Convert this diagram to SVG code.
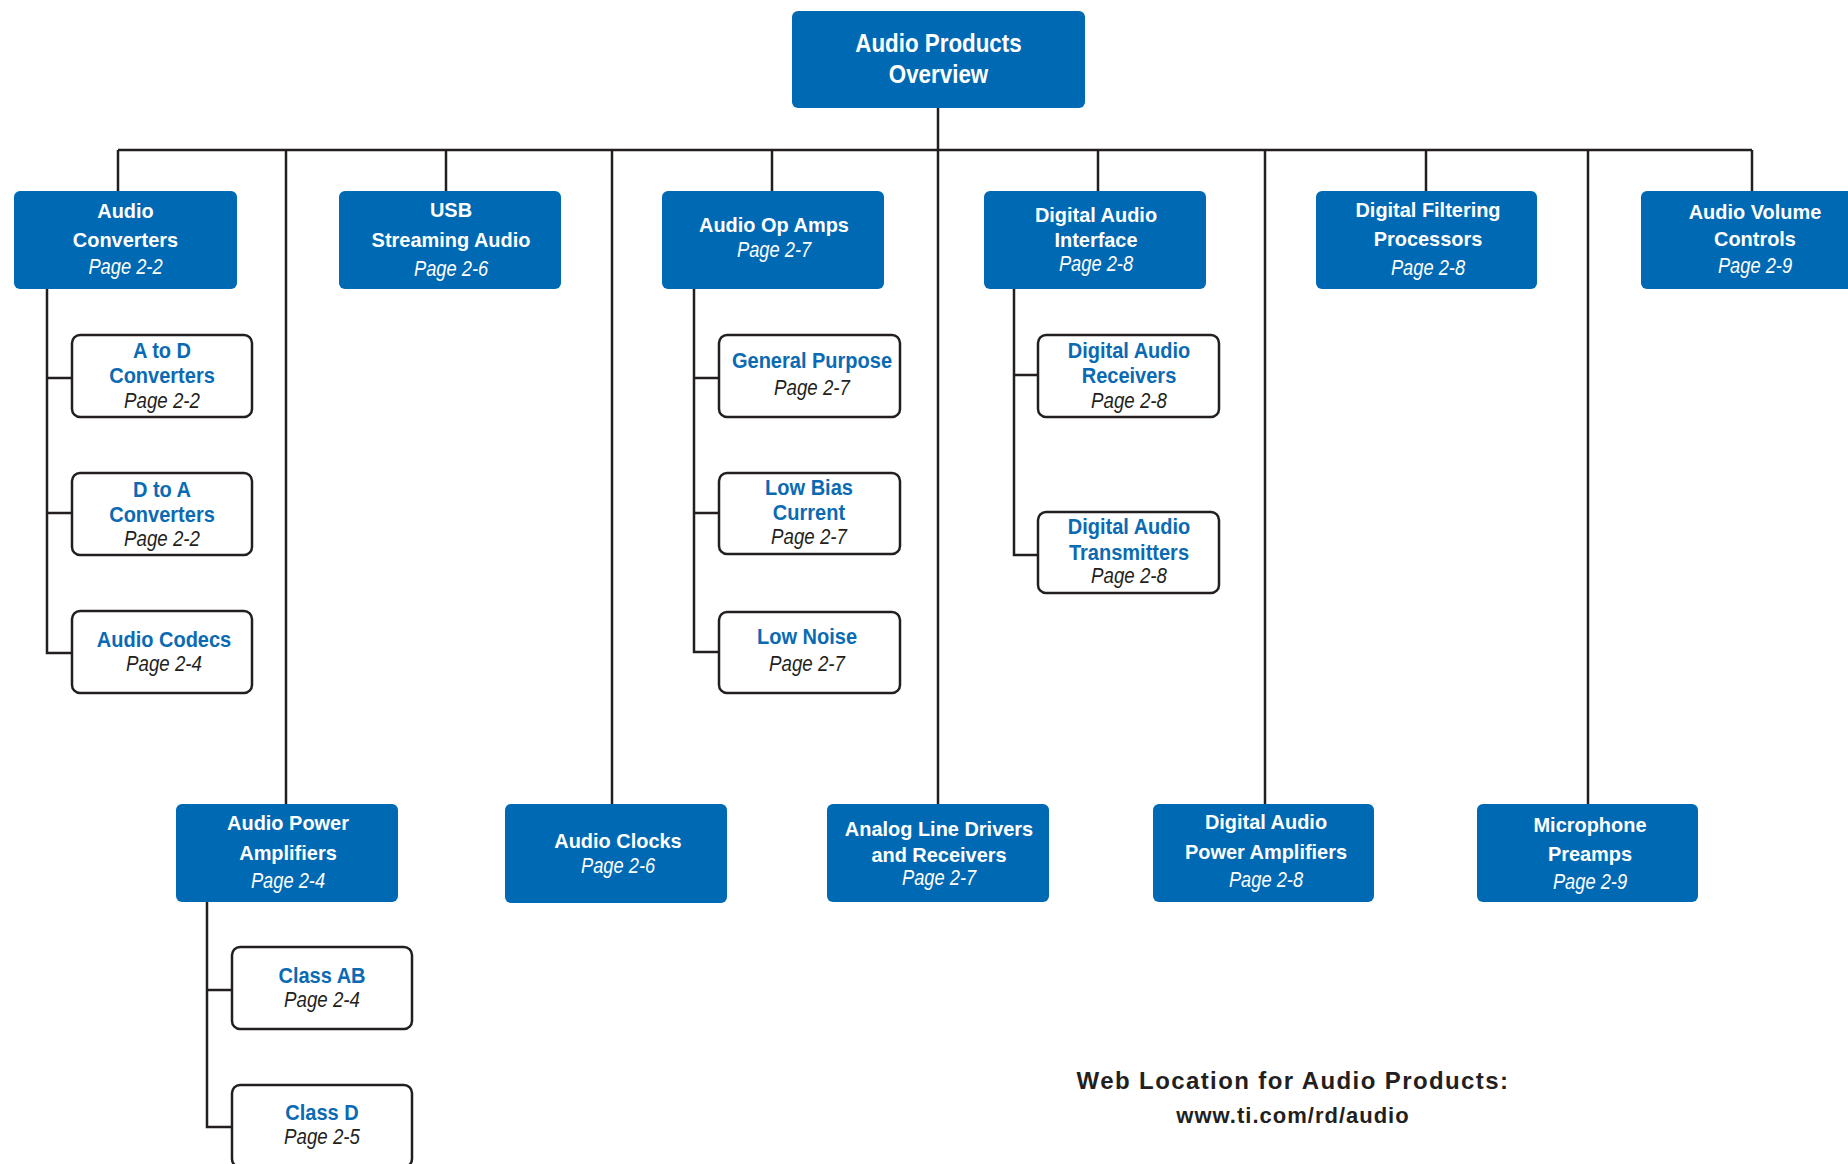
<svg xmlns="http://www.w3.org/2000/svg" width="1848" height="1164" viewBox="0 0 1848 1164">
<style>
text { font-family: "Liberation Sans", Arial, sans-serif; text-anchor: middle; transform-box: fill-box; transform-origin: center; }
.blue { fill: #0069b4; }
.box { fill: #ffffff; stroke: #231f20; stroke-width: 2.5; }
.hd { font-size: 26px; font-weight: bold; fill: #ffffff; transform: scaleX(0.86); }
.wt { font-size: 21px; font-weight: bold; fill: #ffffff; transform: scaleX(0.95); }
.wp { font-size: 21.5px; font-style: italic; fill: #ffffff; transform: scaleX(0.85); }
.bt { font-size: 22px; font-weight: bold; fill: #0a6ab3; transform: scaleX(0.91); }
.bp { font-size: 22px; font-style: italic; fill: #231f20; transform: scaleX(0.85); }
.web { font-size: 24px; font-weight: bold; fill: #231f20; letter-spacing: 1.4px; }
.url { font-size: 22px; font-weight: bold; fill: #231f20; letter-spacing: 1px; }
.ln { fill: none; stroke: #231f20; stroke-width: 2.5; }
</style>
<rect width="1848" height="1164" fill="#ffffff"/>
<g id="connectors" class="ln">
<path d="M938 108V150M118 150H1752"/>
<path d="M118 150V191M446 150V191M772 150V191M1098 150V191M1426 150V191M1752 150V191"/>
<path d="M286 150V804M612 150V804M938 150V804M1265 150V804M1588 150V804"/>
<path d="M47 289V653H72M47 378H72M47 513H72"/>
<path d="M694 289V652H719M694 378H719M694 513H719"/>
<path d="M1014 289V555H1038M1014 375H1038"/>
<path d="M207 902V1127H232M207 990H232"/>
</g>
<g id="n-top"><rect class="blue" x="792" y="11" width="293" height="97" rx="6"/><text class="hd" x="938.5" y="52">Audio Products</text><text class="hd" x="938.5" y="83">Overview</text></g>
<g id="n-conv"><rect class="blue" x="14" y="191" width="223" height="98" rx="6"/><text class="wt" x="125.5" y="218">Audio</text><text class="wt" x="125.5" y="247">Converters</text><text class="wp" x="125.5" y="274">Page 2-2</text></g>
<g id="n-usb"><rect class="blue" x="339" y="191" width="222" height="98" rx="6"/><text class="wt" x="451" y="217">USB</text><text class="wt" x="451" y="247">Streaming Audio</text><text class="wp" x="451" y="276">Page 2-6</text></g>
<g id="n-opamp"><rect class="blue" x="662" y="191" width="222" height="98" rx="6"/><text class="wt" x="774" y="232">Audio Op Amps</text><text class="wp" x="774" y="257">Page 2-7</text></g>
<g id="n-dai"><rect class="blue" x="984" y="191" width="222" height="98" rx="6"/><text class="wt" x="1096" y="222">Digital Audio</text><text class="wt" x="1096" y="247">Interface</text><text class="wp" x="1096" y="271">Page 2-8</text></g>
<g id="n-filt"><rect class="blue" x="1316" y="191" width="221" height="98" rx="6"/><text class="wt" x="1428" y="217">Digital Filtering</text><text class="wt" x="1428" y="246">Processors</text><text class="wp" x="1428" y="275">Page 2-8</text></g>
<g id="n-vol"><rect class="blue" x="1641" y="191" width="222" height="98" rx="6"/><text class="wt" x="1755" y="219">Audio Volume</text><text class="wt" x="1755" y="246">Controls</text><text class="wp" x="1755" y="273">Page 2-9</text></g>
<g id="n-pamp"><rect class="blue" x="176" y="804" width="222" height="98" rx="6"/><text class="wt" x="288" y="830">Audio Power</text><text class="wt" x="288" y="860">Amplifiers</text><text class="wp" x="288" y="888">Page 2-4</text></g>
<g id="n-clk"><rect class="blue" x="505" y="804" width="222" height="99" rx="6"/><text class="wt" x="618" y="848">Audio Clocks</text><text class="wp" x="618" y="873">Page 2-6</text></g>
<g id="n-line"><rect class="blue" x="827" y="804" width="222" height="98" rx="6"/><text class="wt" x="939" y="836">Analog Line Drivers</text><text class="wt" x="939" y="862">and Receivers</text><text class="wp" x="939" y="885">Page 2-7</text></g>
<g id="n-dpamp"><rect class="blue" x="1153" y="804" width="221" height="98" rx="6"/><text class="wt" x="1266" y="829">Digital Audio</text><text class="wt" x="1266" y="859">Power Amplifiers</text><text class="wp" x="1266" y="887">Page 2-8</text></g>
<g id="n-mic"><rect class="blue" x="1477" y="804" width="221" height="98" rx="6"/><text class="wt" x="1590" y="832">Microphone</text><text class="wt" x="1590" y="861">Preamps</text><text class="wp" x="1590" y="889">Page 2-9</text></g>
<g id="c-atod"><rect class="box" x="72" y="335" width="180" height="82" rx="8"/><text class="bt" x="162" y="358">A to D</text><text class="bt" x="162" y="383">Converters</text><text class="bp" x="162" y="408">Page 2-2</text></g>
<g id="c-dtoa"><rect class="box" x="72" y="473" width="180" height="82" rx="8"/><text class="bt" x="162" y="497">D to A</text><text class="bt" x="162" y="522">Converters</text><text class="bp" x="162" y="546">Page 2-2</text></g>
<g id="c-codec"><rect class="box" x="72" y="611" width="180" height="82" rx="8"/><text class="bt" x="164" y="647">Audio Codecs</text><text class="bp" x="164" y="671">Page 2-4</text></g>
<g id="c-gp"><rect class="box" x="719" y="335" width="181" height="82" rx="8"/><text class="bt" x="812" y="368">General Purpose</text><text class="bp" x="812" y="395">Page 2-7</text></g>
<g id="c-lowbias"><rect class="box" x="719" y="473" width="181" height="81" rx="8"/><text class="bt" x="809" y="495">Low Bias</text><text class="bt" x="809" y="520">Current</text><text class="bp" x="809" y="544">Page 2-7</text></g>
<g id="c-lownoise"><rect class="box" x="719" y="612" width="181" height="81" rx="8"/><text class="bt" x="807" y="644">Low Noise</text><text class="bp" x="807" y="671">Page 2-7</text></g>
<g id="c-rx"><rect class="box" x="1038" y="335" width="181" height="82" rx="8"/><text class="bt" x="1129" y="358">Digital Audio</text><text class="bt" x="1129" y="383">Receivers</text><text class="bp" x="1129" y="408">Page 2-8</text></g>
<g id="c-tx"><rect class="box" x="1038" y="512" width="181" height="81" rx="8"/><text class="bt" x="1129" y="534">Digital Audio</text><text class="bt" x="1129" y="560">Transmitters</text><text class="bp" x="1129" y="583">Page 2-8</text></g>
<g id="c-ab"><rect class="box" x="232" y="947" width="180" height="82" rx="8"/><text class="bt" x="322" y="983">Class AB</text><text class="bp" x="322" y="1007">Page 2-4</text></g>
<g id="c-d"><rect class="box" x="232" y="1085" width="180" height="82" rx="8"/><text class="bt" x="322" y="1120">Class D</text><text class="bp" x="322" y="1144">Page 2-5</text></g>
<g id="web"><text class="web" x="1293" y="1089">Web Location for Audio Products:</text><text class="url" x="1293" y="1123">www.ti.com/rd/audio</text></g>
</svg>
